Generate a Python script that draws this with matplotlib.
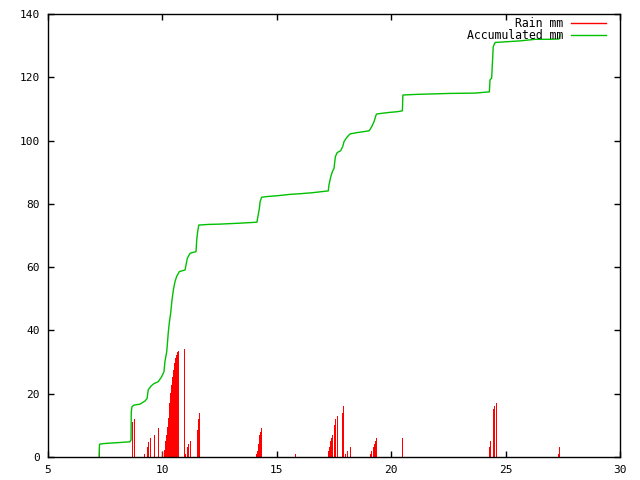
import matplotlib
matplotlib.use("Agg")
import matplotlib.pyplot as plt

# Rain impulses (day, mm)
rain_x = [7.24, 8.67, 8.77, 9.21, 9.34, 9.39, 9.44, 9.65, 9.82, 10.00,
          10.08, 10.13, 10.17, 10.21, 10.26, 10.30, 10.35, 10.39, 10.43, 10.48,
          10.52, 10.56, 10.61, 10.65, 10.69, 10.96,
          11.00, 11.06, 11.12, 11.21, 11.50, 11.56, 11.61,
          14.10, 14.15, 14.19, 14.22, 14.27, 14.31, 15.81,
          17.25, 17.29, 17.34, 17.38, 17.43, 17.50, 17.54, 17.64,
          17.86, 17.91, 17.99, 18.08, 18.21,
          19.09, 19.13, 19.20, 19.25, 19.29, 19.34, 20.49,
          24.29, 24.33, 24.46, 24.51, 24.59, 27.30, 27.35]
rain_mm = [4.0, 11.2, 12.0, 1.0, 3.2, 4.8, 6.0, 7.0, 9.1, 1.7,
           2.2, 5.2, 7.0, 9.4, 12.4, 17.2, 20.1, 22.8, 25.4, 27.5,
           29.8, 31.2, 32.2, 33.1, 33.4, 34.1,
           1.0, 3.1, 4.1, 5.2, 8.5, 11.9, 14.0,
           1.0, 1.9, 4.1, 7.0, 7.9, 9.2, 1.0,
           1.9, 3.3, 5.1, 6.0, 7.0, 10.1, 12.0, 13.0,
           14.0, 16.1, 1.0, 1.9, 3.2,
           1.0, 1.9, 3.2, 4.1, 5.1, 6.0, 6.0,
           3.2, 5.1, 15.2, 16.1, 17.1, 1.0, 3.2]

# Accumulated rain (day, mm)
acc_x = [7.23, 7.25, 7.27, 7.53, 7.97, 8.58, 8.63, 8.64, 8.67, 8.76,
         9.02, 9.24, 9.33, 9.38, 9.50, 9.63, 9.82, 9.97, 10.07, 10.11,
         10.19, 10.26, 10.30, 10.36, 10.42, 10.48, 10.55, 10.62, 10.74, 10.99,
         11.09, 11.21, 11.47, 11.50, 11.54, 11.59, 12.01, 12.52, 13.39, 14.13,
         14.24, 14.27, 14.34, 14.56, 15.07, 15.58, 16.01, 16.53, 17.01, 17.25,
         17.28, 17.36, 17.43, 17.50, 17.56, 17.64, 17.79, 17.88, 17.94, 18.06,
         18.20, 18.49, 18.78, 19.04, 19.15, 19.25, 19.34, 19.37, 19.58, 19.92,
         20.24, 20.49, 20.51, 21.11, 22.57, 23.66, 24.29, 24.32, 24.39, 24.46,
         24.54, 24.97, 25.63, 26.29, 26.94, 27.33, 27.38]
acc_mm = [0.0, 3.8, 4.1, 4.3, 4.5, 4.8, 5.4, 14.3, 15.9, 16.4,
          16.7, 17.7, 18.5, 21.2, 22.4, 23.2, 23.8, 25.4, 27.0, 30.1,
          33.3, 39.6, 42.3, 45.4, 49.6, 52.8, 55.4, 57.0, 58.6, 59.1,
          62.8, 64.4, 64.9, 68.6, 71.2, 73.3, 73.5, 73.6, 73.9, 74.2,
          78.6, 80.7, 82.1, 82.3, 82.6, 83.0, 83.2, 83.5, 83.9, 84.1,
          86.0, 88.6, 90.2, 91.2, 94.9, 96.2, 96.8, 98.1, 99.7, 101.0,
          102.1, 102.5, 102.8, 103.1, 104.4, 106.0, 108.1, 108.4, 108.6, 108.9,
          109.1, 109.4, 114.4, 114.6, 114.9, 115.0, 115.4, 119.2, 119.7, 129.7,
          131.0, 131.2, 131.5, 132.0, 132.0, 132.1, 133.4]

plt.rcParams['font.family'] = ['DejaVu Sans Mono']

fig = plt.figure(figsize=(6.4, 4.8), dpi=100)
ax = fig.add_axes([48 / 640, 23 / 480, 572 / 640, 443 / 480])

ax.vlines(rain_x, 0, rain_mm, color='#ff0000', linewidth=0.55,
          antialiased=False)
ax.plot([], [], color='#ff0000', linewidth=1.0, label='Rain mm')
ax.plot(acc_x, acc_mm, color='#00c000', linewidth=1.0, label='Accumulated mm')

ax.set_xlim(5, 30)
ax.set_ylim(0, 140)
ax.set_xticks([5, 10, 15, 20, 25, 30])
ax.set_yticks([0, 20, 40, 60, 80, 100, 120, 140])
ax.tick_params(direction='in', length=4, width=1, top=True, right=True,
               labelsize=8, pad=6)
for s in ax.spines.values():
    s.set_linewidth(1)

ax.legend(loc='upper right', bbox_to_anchor=(0.983, 1.003), borderaxespad=0,
          frameon=False, markerfirst=False, fontsize=8.3,
          handlelength=3.0, handletextpad=0.7, labelspacing=-0.08)

fig.savefig('out.png', dpi=100)
